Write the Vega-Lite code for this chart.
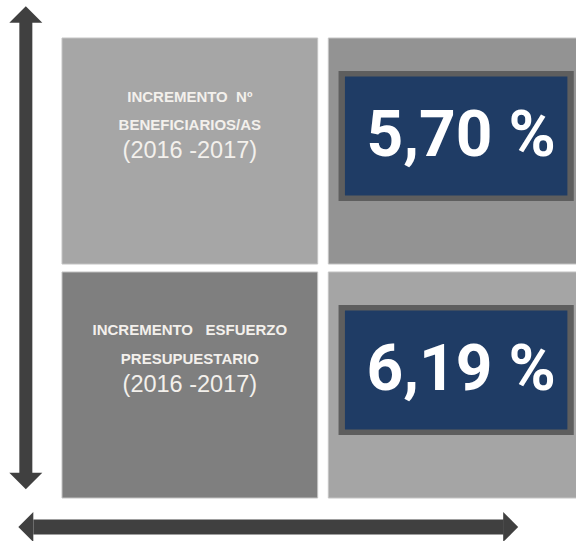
{
  "$schema": "https://vega.github.io/schema/vega-lite/v6.json",
  "width": 576,
  "height": 541,
  "autosize": {"type": "fit", "contains": "padding"},
  "padding": 0,
  "background": "#ffffff",
  "config": {"view": {"stroke": null}},
  "datasets": {
    "cells": [
      {"row": "top", "col": "label", "cell": "top-label"},
      {"row": "top", "col": "value", "cell": "top-value"},
      {"row": "bottom", "col": "label", "cell": "bottom-label"},
      {"row": "bottom", "col": "value", "cell": "bottom-value"}
    ],
    "indicators": [
      {"row": "top", "line1": "INCREMENTO\u00a0 Nº", "line2": "BENEFICIARIOS/AS", "period": "(2016 -2017)", "value": 5.70, "label": "5,70 %"},
      {"row": "bottom", "line1": "INCREMENTO\u00a0\u00a0 ESFUERZO", "line2": "PRESUPUESTARIO", "period": "(2016 -2017)", "value": 6.19, "label": "6,19 %"}
    ]
  },
  "layer": [
    {
      "data": {"name": "cells"},
      "mark": {"type": "rect", "stroke": "#c4c4c4", "strokeWidth": 1},
      "encoding": {
        "x": {"field": "col", "type": "nominal", "scale": {"domain": ["label", "value"], "range": [62, 584], "paddingInner": 0.04, "paddingOuter": 0}, "axis": null},
        "y": {"field": "row", "type": "nominal", "scale": {"domain": ["top", "bottom"], "range": [38, 498], "paddingInner": 0.034, "paddingOuter": 0}, "axis": null},
        "color": {"field": "cell", "type": "nominal", "scale": {"domain": ["top-label", "top-value", "bottom-label", "bottom-value"], "range": ["#a6a6a6", "#939393", "#7f7f7f", "#a5a5a5"]}, "legend": null}
      }
    },
    {
      "data": {"name": "indicators"},
      "mark": {"type": "rect", "fill": "#5e5e5e", "width": {"band": 0.92}, "height": {"band": 0.575}, "yOffset": -15},
      "encoding": {
        "x": {"datum": "value", "type": "nominal"},
        "y": {"field": "row", "type": "nominal"}
      }
    },
    {
      "data": {"name": "indicators"},
      "mark": {"type": "rect", "fill": "#1f3c65", "width": {"band": 0.87}, "height": {"band": 0.527}, "yOffset": -15},
      "encoding": {
        "x": {"datum": "value", "type": "nominal"},
        "y": {"field": "row", "type": "nominal"}
      }
    },
    {
      "data": {"name": "indicators"},
      "mark": {"type": "text", "font": "Roboto, Liberation Sans, sans-serif", "fontWeight": "bold", "fontSize": 64, "fill": "#ffffff", "align": "center", "baseline": "middle", "dx": 5, "dy": -14},
      "encoding": {
        "x": {"datum": "value", "type": "nominal"},
        "y": {"field": "row", "type": "nominal"},
        "text": {"field": "label", "type": "nominal"}
      }
    },
    {
      "data": {"name": "indicators"},
      "mark": {"type": "text", "font": "Liberation Sans, Arial, sans-serif", "fontWeight": "bold", "fontSize": 15, "fill": "#f3f0ec", "align": "center", "baseline": "middle", "dy": -54.5},
      "encoding": {
        "x": {"datum": "label", "type": "nominal"},
        "y": {"field": "row", "type": "nominal"},
        "text": {"field": "line1", "type": "nominal"}
      }
    },
    {
      "data": {"name": "indicators"},
      "mark": {"type": "text", "font": "Liberation Sans, Arial, sans-serif", "fontWeight": "bold", "fontSize": 15, "fill": "#f3f0ec", "align": "center", "baseline": "middle", "dy": -26},
      "encoding": {
        "x": {"datum": "label", "type": "nominal"},
        "y": {"field": "row", "type": "nominal"},
        "text": {"field": "line2", "type": "nominal"}
      }
    },
    {
      "data": {"name": "indicators"},
      "mark": {"type": "text", "font": "Liberation Sans, Arial, sans-serif", "fontSize": 23.5, "fill": "#f3f0ec", "align": "center", "baseline": "middle", "dy": 0},
      "encoding": {
        "x": {"datum": "label", "type": "nominal"},
        "y": {"field": "row", "type": "nominal"},
        "text": {"field": "period", "type": "nominal"}
      }
    },
    {
      "data": {"values": [{"arrow": "vertical"}]},
      "mark": {"type": "rule", "color": "#404040", "strokeWidth": 13, "xOffset": -164, "yOffset": -129, "y2Offset": 89},
      "encoding": {
        "x": {"datum": "label", "type": "nominal"},
        "y": {"datum": "top", "type": "nominal"},
        "y2": {"datum": "bottom"}
      }
    },
    {
      "data": {"values": [{"arrow": "vertical"}]},
      "mark": {"type": "point", "shape": "M0,-0.5L1,0.5L-1,0.5Z", "size": 1089, "filled": true, "opacity": 1, "color": "#404040", "strokeWidth": 0, "xOffset": -164, "yOffset": -136.5},
      "encoding": {
        "x": {"datum": "label", "type": "nominal"},
        "y": {"datum": "top", "type": "nominal"}
      }
    },
    {
      "data": {"values": [{"arrow": "vertical"}]},
      "mark": {"type": "point", "shape": "M0,0.5L1,-0.5L-1,-0.5Z", "size": 1089, "filled": true, "opacity": 1, "color": "#404040", "strokeWidth": 0, "xOffset": -164, "yOffset": 96},
      "encoding": {
        "x": {"datum": "label", "type": "nominal"},
        "y": {"datum": "bottom", "type": "nominal"}
      }
    },
    {
      "data": {"values": [{"arrow": "horizontal"}]},
      "mark": {"type": "rule", "color": "#404040", "strokeWidth": 15, "xOffset": -156.5, "x2Offset": 47.5, "yOffset": 142},
      "encoding": {
        "x": {"datum": "label", "type": "nominal"},
        "x2": {"datum": "value"},
        "y": {"datum": "bottom", "type": "nominal"}
      }
    },
    {
      "data": {"values": [{"arrow": "horizontal"}]},
      "mark": {"type": "point", "shape": "M-0.5,0L0.5,-1L0.5,1Z", "size": 900, "filled": true, "opacity": 1, "color": "#404040", "strokeWidth": 0, "xOffset": -164, "yOffset": 142},
      "encoding": {
        "x": {"datum": "label", "type": "nominal"},
        "y": {"datum": "bottom", "type": "nominal"}
      }
    },
    {
      "data": {"values": [{"arrow": "horizontal"}]},
      "mark": {"type": "point", "shape": "M0.5,0L-0.5,-1L-0.5,1Z", "size": 900, "filled": true, "opacity": 1, "color": "#404040", "strokeWidth": 0, "xOffset": 54.5, "yOffset": 142},
      "encoding": {
        "x": {"datum": "value", "type": "nominal"},
        "y": {"datum": "bottom", "type": "nominal"}
      }
    }
  ]
}
